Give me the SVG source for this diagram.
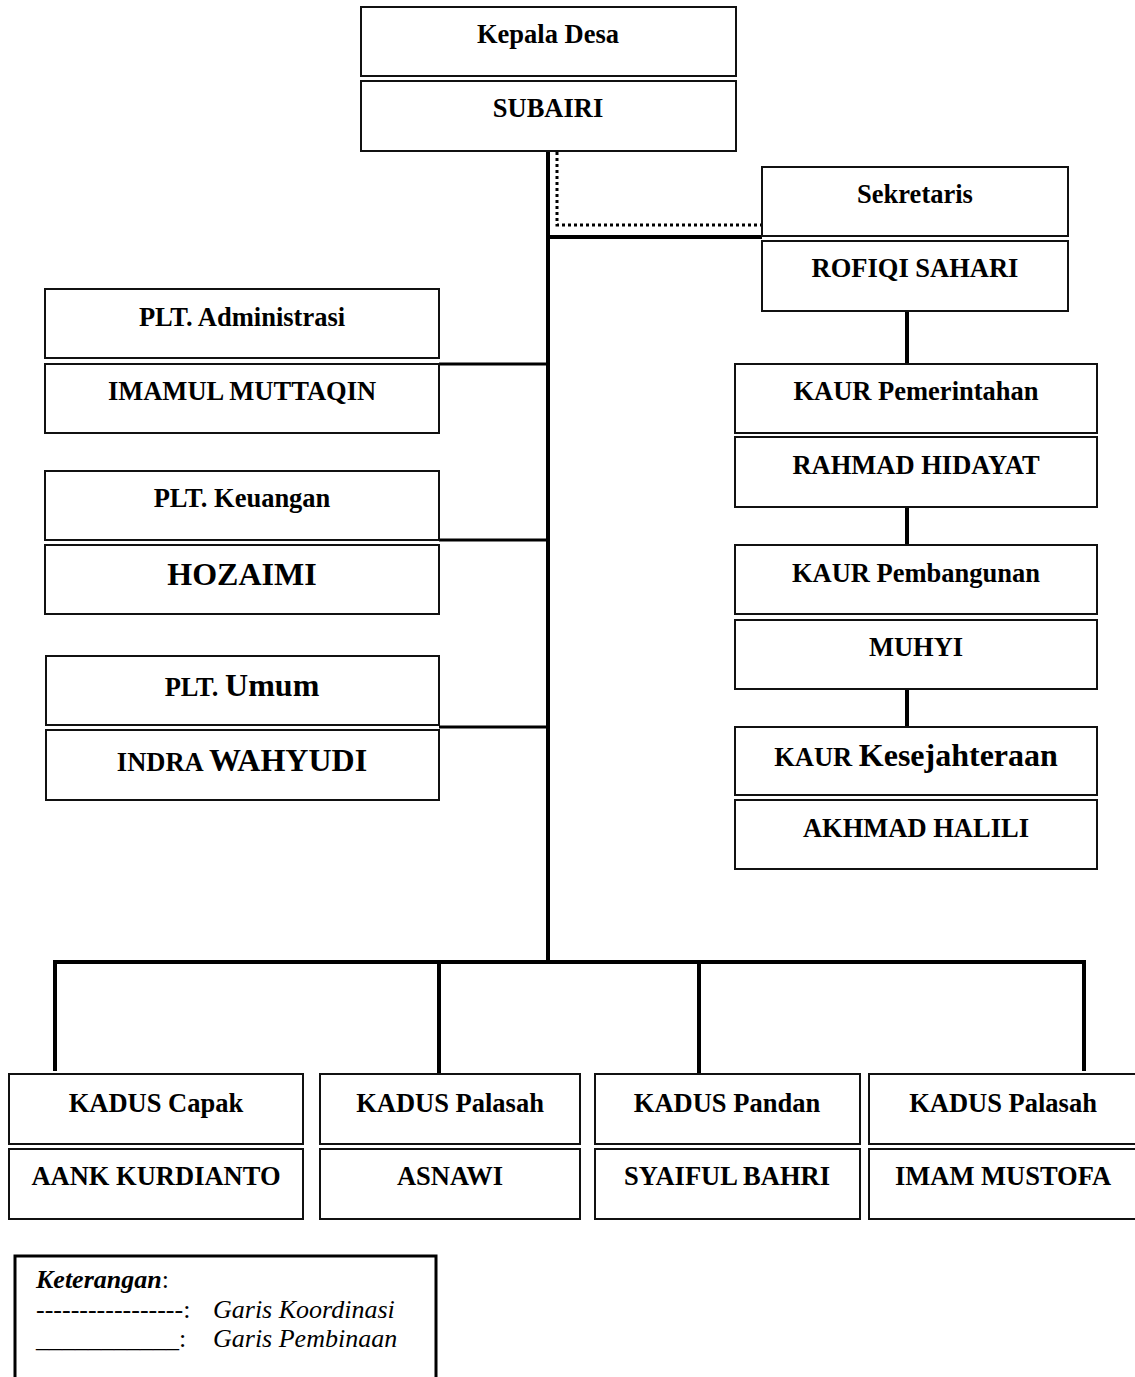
<svg xmlns="http://www.w3.org/2000/svg" width="1135" height="1377" viewBox="0 0 1135 1377">
<style>
  .box { fill: #ffffff; stroke: #111111; stroke-width: 2; }
  .t { font-family: "Liberation Serif", "Times New Roman", serif; font-weight: bold; font-size: 26.5px; fill: #000000; text-anchor: middle; }
  .big { font-size: 32px; }
  .solid { stroke: #000000; stroke-width: 4; fill: none; }
  .thin { stroke: #000000; stroke-width: 3; fill: none; }
  .dot { stroke: #000000; stroke-width: 3; stroke-dasharray: 3 3; fill: none; }
  .leg { font-family: "Liberation Serif", "Times New Roman", serif; font-size: 26px; fill: #000000; }
</style>
<rect width="1135" height="1377" fill="#ffffff"/>

<g id="connectors">
  <line class="solid" x1="548" y1="152" x2="548" y2="964"/>
  <line class="solid" x1="548" y1="237" x2="762" y2="237"/>
  <polyline class="dot" points="557,152 557,225 762,225"/>
  <line class="thin" x1="439" y1="364" x2="548" y2="364"/>
  <line class="thin" x1="439" y1="540" x2="548" y2="540"/>
  <line class="thin" x1="439" y1="727" x2="548" y2="727"/>
  <line class="solid" x1="907" y1="311" x2="907" y2="364"/>
  <line class="solid" x1="907" y1="507" x2="907" y2="545"/>
  <line class="solid" x1="907" y1="689" x2="907" y2="727"/>
  <line class="solid" x1="55" y1="962" x2="1086" y2="962"/>
  <line class="solid" x1="55" y1="960" x2="55" y2="1071"/>
  <line class="solid" x1="439" y1="962" x2="439" y2="1073"/>
  <line class="solid" x1="699" y1="962" x2="699" y2="1073"/>
  <line class="solid" x1="1084" y1="960" x2="1084" y2="1071"/>
</g>

<g id="kepala-desa">
  <rect class="box" x="361" y="7" width="375" height="69"/>
  <text class="t" x="548" y="43">Kepala Desa</text>
  <rect class="box" x="361" y="81" width="375" height="70"/>
  <text class="t" x="548" y="117">SUBAIRI</text>
</g>

<g id="sekretaris">
  <rect class="box" x="762" y="167" width="306" height="69"/>
  <text class="t" x="915" y="203">Sekretaris</text>
  <rect class="box" x="762" y="241" width="306" height="70"/>
  <text class="t" x="915" y="277">ROFIQI SAHARI</text>
</g>

<g id="plt-administrasi">
  <rect class="box" x="45" y="289" width="394" height="69"/>
  <text class="t" x="242" y="326">PLT. Administrasi</text>
  <rect class="box" x="45" y="364" width="394" height="69"/>
  <text class="t" x="242" y="400">IMAMUL MUTTAQIN</text>
</g>

<g id="plt-keuangan">
  <rect class="box" x="45" y="471" width="394" height="69"/>
  <text class="t" x="242" y="507">PLT. Keuangan</text>
  <rect class="box" x="45" y="545" width="394" height="69"/>
  <text class="t big" x="242" y="585">HOZAIMI</text>
</g>

<g id="plt-umum">
  <rect class="box" x="46" y="656" width="393" height="69"/>
  <text class="t" x="242" y="696">PLT. <tspan class="big">Umum</tspan></text>
  <rect class="box" x="46" y="730" width="393" height="70"/>
  <text class="t" x="242" y="771">INDRA <tspan class="big">WAHYUDI</tspan></text>
</g>

<g id="kaur-pemerintahan">
  <rect class="box" x="735" y="364" width="362" height="69"/>
  <text class="t" x="916" y="400">KAUR Pemerintahan</text>
  <rect class="box" x="735" y="437" width="362" height="70"/>
  <text class="t" x="916" y="474">RAHMAD HIDAYAT</text>
</g>

<g id="kaur-pembangunan">
  <rect class="box" x="735" y="545" width="362" height="69"/>
  <text class="t" x="916" y="582">KAUR Pembangunan</text>
  <rect class="box" x="735" y="620" width="362" height="69"/>
  <text class="t" x="916" y="656">MUHYI</text>
</g>

<g id="kaur-kesejahteraan">
  <rect class="box" x="735" y="727" width="362" height="68"/>
  <text class="t" x="916" y="766">KAUR <tspan class="big">Kesejahteraan</tspan></text>
  <rect class="box" x="735" y="800" width="362" height="69"/>
  <text class="t" x="916" y="837">AKHMAD HALILI</text>
</g>

<g id="kadus-capak">
  <rect class="box" x="9" y="1074" width="294" height="70"/>
  <text class="t" x="156" y="1112">KADUS Capak</text>
  <rect class="box" x="9" y="1149" width="294" height="70"/>
  <text class="t" x="156" y="1185">AANK KURDIANTO</text>
</g>

<g id="kadus-palasah-1">
  <rect class="box" x="320" y="1074" width="260" height="70"/>
  <text class="t" x="450" y="1112">KADUS Palasah</text>
  <rect class="box" x="320" y="1149" width="260" height="70"/>
  <text class="t" x="450" y="1185">ASNAWI</text>
</g>

<g id="kadus-pandan">
  <rect class="box" x="595" y="1074" width="265" height="70"/>
  <text class="t" x="727" y="1112">KADUS Pandan</text>
  <rect class="box" x="595" y="1149" width="265" height="70"/>
  <text class="t" x="727" y="1185">SYAIFUL BAHRI</text>
</g>

<g id="kadus-palasah-2">
  <rect class="box" x="869" y="1074" width="270" height="70"/>
  <text class="t" x="1003" y="1112">KADUS Palasah</text>
  <rect class="box" x="869" y="1149" width="270" height="70"/>
  <text class="t" x="1003" y="1185">IMAM MUSTOFA</text>
</g>

<g id="legend">
  <polyline points="15,1380 15,1256 436,1256 436,1380" fill="none" stroke="#000000" stroke-width="3"/>
  <text class="leg" x="36" y="1288"><tspan font-weight="bold" font-style="italic">Keterangan</tspan>:</text>
  <text class="leg" x="36" y="1318">-----------------: <tspan font-style="italic" x="213">Garis Koordinasi</tspan></text>
  <text class="leg" x="36" y="1347">___________: <tspan font-style="italic" x="213">Garis Pembinaan</tspan></text>
</g>
</svg>
